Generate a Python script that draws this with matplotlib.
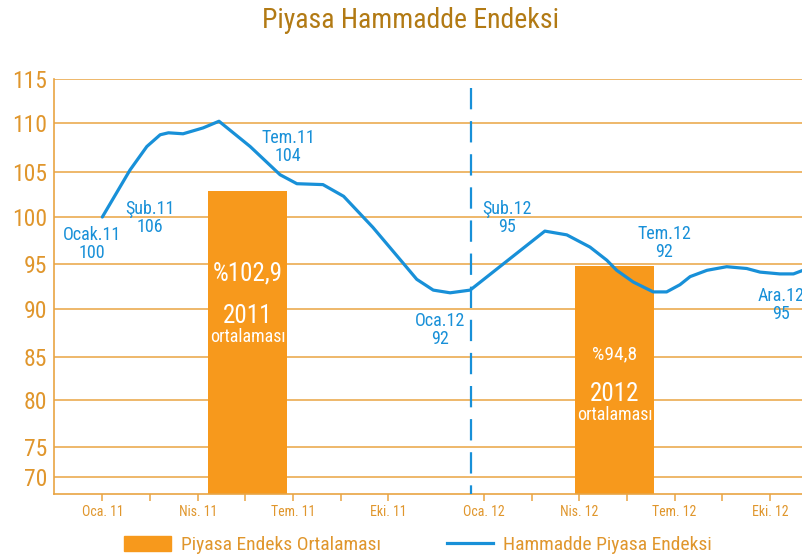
import numpy as np
import matplotlib
matplotlib.use("Agg")
import matplotlib.pyplot as plt
from matplotlib import font_manager
from matplotlib.patches import Patch
from matplotlib.lines import Line2D

# pick a narrow-ish family that is actually installed
fam = 'DejaVu Sans'
for f in ['Roboto Condensed', 'Liberation Sans Narrow', 'Lato', 'Roboto']:
    try:
        font_manager.findfont(f, fallback_to_default=False)
        fam = f
        break
    except ValueError:
        pass
plt.rcParams['font.family'] = [fam, 'DejaVu Sans']

# --- data (months counted from Jan 2011 = 0) ---
month_ticks = [0, 3, 6, 9, 12, 15, 18, 21]
month_labels = ['Oca. 11', 'Nis. 11', 'Tem. 11', 'Eki. 11',
                'Oca. 12', 'Nis. 12', 'Tem. 12', 'Eki. 12']
minor_ticks = [1.5, 4.5, 7.5, 13.5, 16.5, 19.5]
y_ticks = [70, 75, 80, 85, 90, 95, 100, 105, 110, 115]

curve_m = [0, 0.87, 1.40, 1.82, 2.08, 2.54, 3.17, 3.67, 4.65, 5.59, 6.12, 6.94,
           7.59, 8.51, 9.46, 9.89, 10.41, 10.94, 11.57, 13.92, 14.61, 15.34,
           15.87, 16.18, 16.70, 17.33, 17.75, 18.17, 18.49, 19.02, 19.64, 20.27,
           20.69, 21.31, 21.74, 22.04]
curve_v = [100, 105.2, 107.6, 108.8, 109.0, 108.9, 109.5, 110.2, 107.6, 104.7,
           103.7, 103.6, 102.3, 98.9, 95.1, 93.3, 92.1, 91.8, 92.1, 98.5, 98.1,
           96.8, 95.4, 94.3, 93.0, 91.9, 91.9, 92.7, 93.6, 94.3, 94.7, 94.5,
           94.1, 93.9, 93.9, 94.3]

avg_years = ['2011', '2012']
avg_values = [102.9, 94.8]
avg_pos = [4.57, 16.11]
avg_labels = ['%102,9', '%94,8']

point_names = ['Ocak.11', 'Şub.11', 'Tem.11', 'Oca.12', 'Şub.12', 'Tem.12', 'Ara.12']
point_values = [100, 106, 104, 92, 95, 92, 95]

# the original chart's grid is unevenly spaced; mimic it with a piecewise scale
scale_vals = [60, 70, 75, 80, 85, 90, 95, 100, 105, 110, 115, 120]
scale_pix = [537, 477, 447, 400, 357, 309, 264, 217, 172, 123, 79, 35]


def fwd(v):
    return -np.interp(v, scale_vals, scale_pix)


def inv(u):
    return np.interp(-np.asarray(u), scale_pix[::-1], scale_vals[::-1])


ORANGE = '#F7991C'
GRID = '#E9A443'
LABEL = '#E0962C'
TITLE = '#B27A14'
BLUE = '#1890D8'

W, H = 803, 559
fig = plt.figure(figsize=(W / 100, H / 100), dpi=100)
ax = fig.add_axes([54 / W, (H - 494) / H, (W - 54) / W, (494 - 79) / H])
ax.set_yscale('function', functions=(fwd, inv))
ymin = 67.17
ax.set_ylim(ymin, 115)
ax.set_xlim(-1.52, 22.04)

# bars
ax.bar(avg_pos, [v - ymin for v in avg_values], bottom=ymin, width=2.49,
       color=ORANGE, zorder=2)

# curve
ax.plot(curve_m, curve_v, color=BLUE, lw=2.3, zorder=4,
        solid_joinstyle='round', solid_capstyle='round')

# dashed year divider
ax.plot([11.59, 11.59], [114.0, ymin], color=BLUE, lw=1.6,
        linestyle=(0, (9.6, 5.3)), zorder=3)

# grid, spines, ticks
ax.set_yticks(y_ticks)
ax.yaxis.grid(True, color=GRID, lw=1.1, zorder=0)
ax.set_axisbelow(True)
for s in ['top', 'right']:
    ax.spines[s].set_visible(False)
for s in ['left', 'bottom']:
    ax.spines[s].set_color(GRID)
    ax.spines[s].set_linewidth(1.2)
ax.tick_params(axis='y', length=0, pad=5, labelsize=17, labelcolor=LABEL)
ax.set_xticks(month_ticks)
ax.set_xticklabels(month_labels)
ax.set_xticks(minor_ticks, minor=True)
ax.tick_params(axis='x', which='both', direction='out', length=5, width=1.1,
               color=GRID, labelsize=10, labelcolor=LABEL, pad=3)

# point labels
lbl_pos = [(-0.32, 97.1), (1.50, 99.9), (5.84, 107.55), (10.62, 87.8),
           (12.73, 99.9), (17.67, 97.2), (21.35, 90.4)]
for (x, y), n, v in zip(lbl_pos, point_names, point_values):
    ax.text(x, y, '%s\n%d' % (n, v), color=BLUE, fontsize=13, ha='center',
            va='center', linespacing=1.0, zorder=5, clip_on=False)

# bar labels
bar_txt = [((94.0, 89.27, 87.08), 18), ((85.3, 80.7, 78.4), 14)]
for (ys, s1), x, lab, yr in zip(bar_txt, avg_pos, avg_labels, avg_years):
    ax.text(x, ys[0], lab, color='white', fontsize=s1, ha='center', va='center', zorder=5)
    ax.text(x, ys[1], yr, color='white', fontsize=18, ha='center', va='center', zorder=5)
    ax.text(x, ys[2], 'ortalaması', color='white', fontsize=13, ha='center',
            va='center', zorder=5)

fig.text(410 / W, 1 - 20 / H, 'Piyasa Hammadde Endeksi', color=TITLE,
         fontsize=20, ha='center', va='center')

handles = [Patch(color=ORANGE), Line2D([], [], color=BLUE, lw=2.3)]
fig.legend(handles, ['Piyasa Endeks Ortalaması', 'Hammadde Piyasa Endeksi'],
           loc='center', bbox_to_anchor=(418 / W, 1 - 545 / H), ncol=2,
           frameon=False, fontsize=14, labelcolor=LABEL, handlelength=2.4,
           handleheight=0.85, handletextpad=0.5, columnspacing=3.4)

fig.savefig('out.png', dpi=100)
